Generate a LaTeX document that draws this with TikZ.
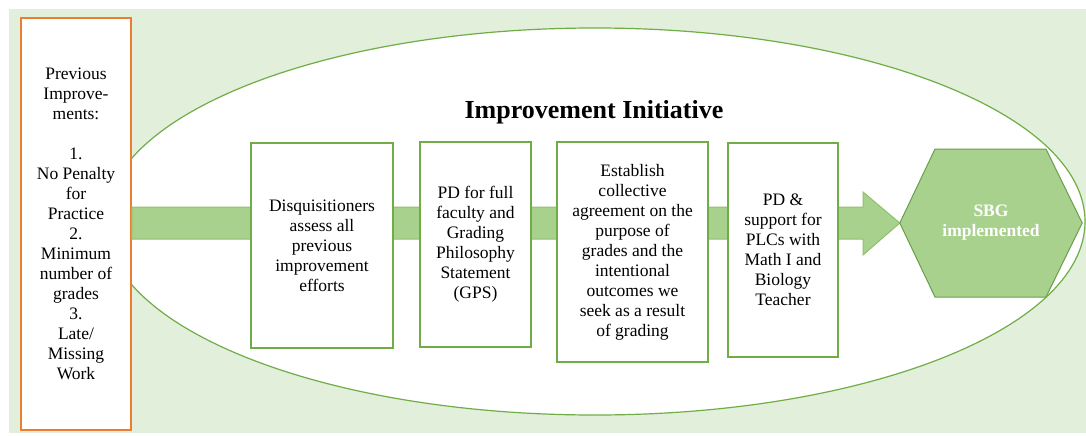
\documentclass[tikz,border=0pt]{standalone}
\usepackage{fontspec}
\setmainfont{LiberationSerif}[Extension=.ttf, UprightFont=*-Regular, BoldFont=*-Bold, ItalicFont=*-Italic, BoldItalicFont=*-BoldItalic]
\usetikzlibrary{calc}
\definecolor{bgG}{HTML}{E2EFDA}
\definecolor{lineG}{HTML}{70AD47}
\definecolor{fillG}{HTML}{A9D18E}
\definecolor{bandEdge}{HTML}{8CC46A}
\definecolor{hexEdge}{HTML}{6A9E4A}
\definecolor{orangeL}{HTML}{ED7D31}
\tikzset{
  txt/.style={font=\fontsize{17.5}{20}\selectfont, align=center, inner sep=0pt},
  stepbox/.style={txt, draw=lineG, line width=1.5pt, fill=white},
  prevbox/.style={txt, draw=orangeL, line width=1.5pt, fill=white},
  band/.style={fill=fillG, draw=bandEdge, line width=1pt},
}
\begin{document}
\begin{tikzpicture}[x=1pt,y=-1pt]
\useasboundingbox (0,0) rectangle (1086,436);
\fill[bgG] (9,9) rectangle (1086,433);
\draw[lineG, line width=1.2pt, fill=white] (595,221.5) ellipse [x radius=490, y radius=193.5];
\node[prevbox, minimum width=110, minimum height=412] (prev) at (76,224)
  {Previous\\Improve-\\ments:\\[20pt]1.\\No Penalty\\for\\Practice\\2.\\Minimum\\number of\\grades\\3.\\Late/\\Missing\\Work};
\node[minimum width=182, minimum height=148, inner sep=0pt] (sbg) at (991,223) {};
\draw[band] ($(prev.east)+(0,-17)$) -- (863,207) -- (863,192) -- (sbg.west) -- (863,255) -- (863,239) -- ($(prev.east)+(0,15)$) -- cycle;
\node[stepbox, minimum width=142, minimum height=205] (b1) at (322,245.5)
  {Disquisitioners\\assess all\\previous\\improvement\\efforts};
\node[stepbox, minimum width=111, minimum height=205] (b2) at (475.5,244.5)
  {PD for full\\faculty and\\Grading\\Philosophy\\Statement\\(GPS)};
\node[stepbox, minimum width=151, minimum height=220] (b3) at (632.5,252)
  {Establish\\collective\\agreement on the\\purpose of\\grades and the\\intentional\\outcomes we\\seek as a result\\of grading};
\node[stepbox, minimum width=110, minimum height=214] (b4) at (783,250)
  {PD \&\\support for\\PLCs with\\Math I and\\Biology\\Teacher};
\draw[fill=fillG, draw=hexEdge, line width=1pt] (sbg.west) -- (935,149) -- (1046,149) -- (sbg.east) -- (1046,297) -- (935,297) -- cycle;
\node[txt, text=white, font=\bfseries\fontsize{17.5}{20}\selectfont] (sbgtext) at (sbg.center) {SBG\\implemented};
\node[anchor=base, inner sep=0pt, font=\bfseries\fontsize{26}{30}\selectfont] (title) at (594,118) {Improvement Initiative};
\end{tikzpicture}
\end{document}
